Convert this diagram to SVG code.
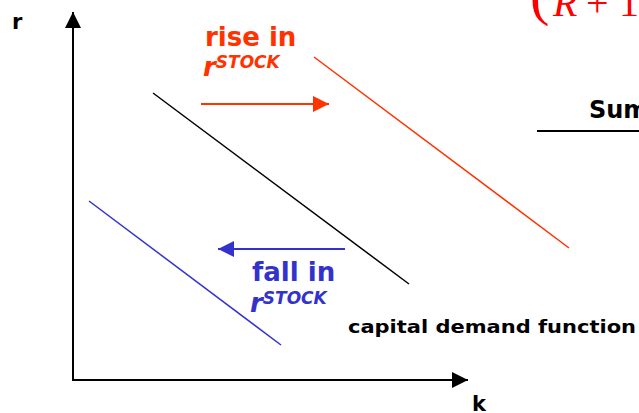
<svg xmlns="http://www.w3.org/2000/svg" width="639" height="413" viewBox="0 0 639 413">
<style>
.lbl{font-family:"DejaVu Sans","Verdana",sans-serif;font-weight:bold}
.red{fill:#FF3300}
.blue{fill:#3333CC}
.math{font-family:"Liberation Serif",serif;font-size:40px;fill:#FF0000}
</style>
<defs>
<marker id="ahr" viewBox="0 0 10 10" refX="10" refY="5" markerWidth="16" markerHeight="16" markerUnits="userSpaceOnUse" orient="auto"><path d="M0,0L10,5L0,10z" fill="#FF3300"/></marker>
<marker id="ahb" viewBox="0 0 10 10" refX="10" refY="5" markerWidth="16" markerHeight="16" markerUnits="userSpaceOnUse" orient="auto"><path d="M0,0L10,5L0,10z" fill="#3333CC"/></marker>
<marker id="ahk" viewBox="0 0 10 10" refX="10" refY="5" markerWidth="16" markerHeight="16" markerUnits="userSpaceOnUse" orient="auto"><path d="M0,0L10,5L0,10z" fill="#000"/></marker>
</defs>
<rect width="639" height="413" fill="#fff"/>
<g id="formula">
<text x="530" y="14" class="math" font-size="58" style="font-size:58px">(</text>
<text x="553" y="16" class="math" font-style="italic">R</text>
<text x="586" y="16" class="math">+</text>
<text x="619" y="16" class="math">1</text>
</g>
<g id="sum">
<text x="589" y="118" class="lbl" font-size="24" fill="#000">Sum</text>
<line x1="537" y1="131" x2="639" y2="131" stroke="#000" stroke-width="2"/>
</g>
<g id="axes">
<line x1="73" y1="380" x2="73" y2="12" stroke="#000" stroke-width="2" marker-end="url(#ahk)"/>
<line x1="72" y1="380" x2="468" y2="380" stroke="#000" stroke-width="2" marker-end="url(#ahk)"/>
<text x="12" y="29" class="lbl" font-size="21" fill="#000">r</text>
<text x="472" y="411" class="lbl" font-size="21" fill="#000">k</text>
</g>
<g id="connectors">
<line x1="153" y1="93" x2="409" y2="284" stroke="#000" stroke-width="1.5"/>
<line x1="314" y1="57" x2="569" y2="248" stroke="#FF3300" stroke-width="1.5"/>
<line x1="89" y1="201" x2="281" y2="345" stroke="#3333CC" stroke-width="1.5"/>
<line x1="201" y1="104" x2="329" y2="104" stroke="#FF3300" stroke-width="2" marker-end="url(#ahr)"/>
<line x1="345" y1="249" x2="218" y2="249" stroke="#3333CC" stroke-width="2" marker-end="url(#ahb)"/>
</g>
<g id="rise">
<text x="205" y="46" class="lbl red" font-size="26">rise in</text>
<text x="203" y="76" class="lbl red" font-size="26" font-style="italic">r<tspan font-size="17" dy="-8">STOCK</tspan></text>
</g>
<g id="fall">
<text x="252" y="281" class="lbl blue" font-size="26">fall in</text>
<text x="250" y="312" class="lbl blue" font-size="26" font-style="italic">r<tspan font-size="17" dy="-8">STOCK</tspan></text>
</g>
<g id="demand">
<text x="348" y="333" class="lbl" font-size="17" fill="#000" textLength="288" lengthAdjust="spacingAndGlyphs">capital demand function</text>
</g>
</svg>
